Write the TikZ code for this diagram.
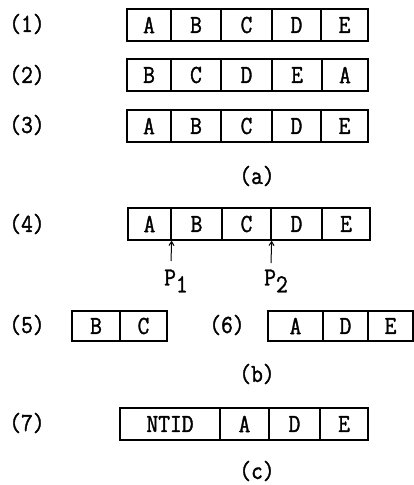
\documentclass[tikz,border=0pt]{standalone}
\usepackage{fontspec}
\setmonofont[FakeBold=1.4,FakeStretch=0.88]{Latin Modern Mono}
\usetikzlibrary{arrows.meta}
\begin{document}
\begin{tikzpicture}[x=1pt,y=-1pt,
  every node/.style={font=\fontsize{26}{28}\selectfont\ttfamily},
  cell/.style={draw,line width=1.3pt,inner sep=0pt,minimum height=32pt,anchor=center},
  tag/.style={anchor=center},
  ptr/.style={line width=1pt,-{Straight Barb[length=4pt,width=5pt]}}]
\useasboundingbox (0,0) rectangle (414,485);
% helper: a cell spanning x1..x2 centred on y
\def\cellat#1#2#3#4#5{\node[cell,minimum width={(#3)-(#2)}] (#1) at ({((#2)+(#3))/2},#4) {#5};}
% (1)
\node[tag] (t1) at (27,24) {(1)};
\cellat{r1a}{127}{171}{25}{A}
\cellat{r1b}{171}{221}{25}{B}
\cellat{r1c}{221}{272}{25}{C}
\cellat{r1d}{272}{321}{25}{D}
\cellat{r1e}{321}{368}{25}{E}
% (2)
\node[tag] (t2) at (27,75) {(2)};
\cellat{r2a}{127}{171}{75}{B}
\cellat{r2b}{171}{221}{75}{C}
\cellat{r2c}{221}{272}{75}{D}
\cellat{r2d}{272}{322}{75}{E}
\cellat{r2e}{322}{368}{75}{A}
% (3)
\node[tag] (t3) at (27,125) {(3)};
\cellat{r3a}{127}{171}{126}{A}
\cellat{r3b}{171}{221}{126}{B}
\cellat{r3c}{221}{272}{126}{C}
\cellat{r3d}{272}{321}{126}{D}
\cellat{r3e}{321}{368}{126}{E}
\node[tag] (capa) at (257,176) {(a)};
% (4)
\node[tag] (t4) at (27,224) {(4)};
\cellat{r4a}{128}{171}{224}{A}
\cellat{r4b}{171}{222}{224}{B}
\cellat{r4c}{222}{271}{224}{C}
\cellat{r4d}{271}{322}{224}{D}
\cellat{r4e}{322}{370}{224}{E}
\coordinate (p1tail) at (171,261);
\coordinate (p2tail) at (271,263);
\draw[ptr] (p1tail) -- (r4a.south east);
\draw[ptr] (p2tail) -- (r4c.south east);
\node[tag] (p1) at (176,281) {P\raisebox{-7pt}{1}};
\node[tag] (p2) at (276,281) {P\raisebox{-7pt}{2}};
% (5) and (6)
\node[tag] (t5) at (27,325) {(5)};
\tikzset{cell/.append style={minimum height=30pt}}
\cellat{r5a}{72}{120}{326}{B}
\cellat{r5b}{120}{167}{326}{C}
\node[tag] (t6) at (227,325) {(6)};
\cellat{r6a}{268}{323}{326}{A}
\cellat{r6b}{323}{368}{326}{D}
\cellat{r6c}{368}{413}{326}{E}
\node[tag] (capb) at (257,374) {(b)};
% (7)
\tikzset{cell/.append style={minimum height=32pt}}
\node[tag] (t7) at (27,423) {(7)};
\cellat{r7a}{120}{220}{424}{NTID}
\cellat{r7b}{220}{269}{424}{A}
\cellat{r7c}{269}{320}{424}{D}
\cellat{r7d}{320}{368}{424}{E}
\node[tag] (capc) at (257,471) {(c)};
\end{tikzpicture}
\end{document}
